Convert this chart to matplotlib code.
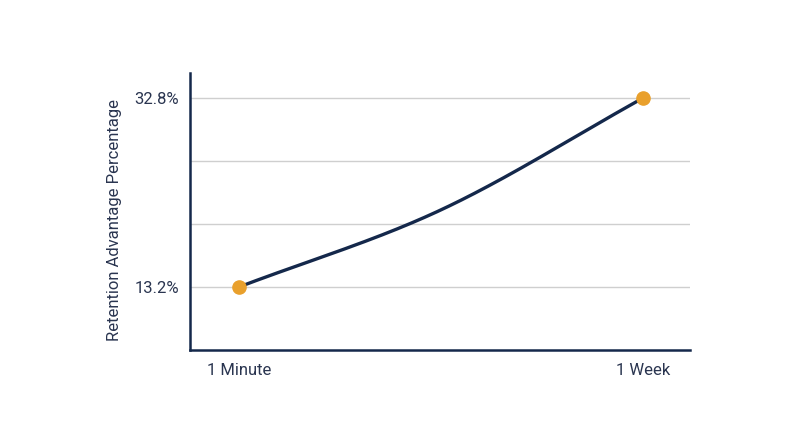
import numpy as np
import matplotlib
matplotlib.use("Agg")
import matplotlib.pyplot as plt

# data
categories = ['1 Minute', '1 Week']
retention = [13.2, 32.8]
# unmarked middle value that gives the line its bend
curve_x = [0.0, 0.5, 1.0]
curve_y = [13.2, 21.2, 32.8]
grid_values = [13.2, 19.73, 26.27, 32.8]
tick_labels = ['13.2%', '32.8%']

NAVY = '#14284b'
ORANGE = '#e9a02c'
TEXT = '#2a3550'


def bent_curve(xs, ys, n=200):
    # hermite pieces: ends follow their own segment slope, the middle is rounded
    xs = np.asarray(xs, float)
    ys = np.asarray(ys, float)
    h = np.diff(xs)
    d = np.diff(ys) / h
    m = np.zeros_like(ys)
    m[0] = d[0]
    m[-1] = d[-1]
    for i in range(1, len(ys) - 1):
        m[i] = (d[i - 1] + d[i]) / 2
    out_x, out_y = [], []
    for i in range(len(h)):
        t = np.linspace(0, 1, n)
        h00 = 2 * t**3 - 3 * t**2 + 1
        h10 = t**3 - 2 * t**2 + t
        h01 = -2 * t**3 + 3 * t**2
        h11 = t**3 - t**2
        out_x.append(xs[i] + t * h[i])
        out_y.append(h00 * ys[i] + h10 * h[i] * m[i] + h01 * ys[i + 1] + h11 * h[i] * m[i + 1])
    return np.concatenate(out_x), np.concatenate(out_y)


plt.rcParams['font.family'] = ['Roboto', 'DejaVu Sans']

fig = plt.figure(figsize=(8, 4.47), dpi=100)
ax = fig.add_axes([0.2375, 0.217, 0.625, 0.6197])

for g in grid_values:
    ax.axhline(g, color='#cfcfcf', linewidth=1, zorder=0)

cx, cy = bent_curve(curve_x, curve_y)
ax.plot(cx, cy, color=NAVY, linewidth=2.4, solid_capstyle='round', zorder=2)
ax.plot([0, 1], retention, linestyle='none', marker='o', markersize=9.5,
        color=ORANGE, zorder=3)

ax.set_xlim(-0.121, 1.116)
ax.set_ylim(6.67, 35.39)
ax.set_xticks([0, 1])
ax.set_xticklabels(categories)
ax.set_yticks(retention)
ax.set_yticklabels(tick_labels)
ax.tick_params(axis='both', length=0, labelsize=12, colors=TEXT)
ax.tick_params(axis='x', pad=9)
ax.tick_params(axis='y', pad=8)
ax.set_ylabel('Retention Advantage Percentage', fontsize=12, color=TEXT)
ax.yaxis.set_label_coords(-0.136, 0.47)

for side in ['top', 'right']:
    ax.spines[side].set_visible(False)
for side in ['left', 'bottom']:
    ax.spines[side].set_color(NAVY)
    ax.spines[side].set_linewidth(1.8)

fig.savefig('out.png', dpi=100, facecolor='white')
